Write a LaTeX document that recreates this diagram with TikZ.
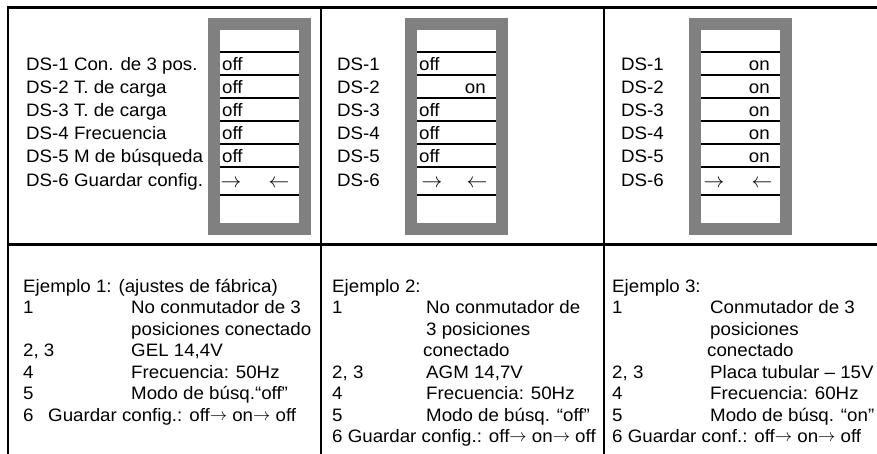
\documentclass[tikz,border=0pt]{standalone}
\usepackage{fontspec}
\setmainfont{Liberation Sans}[FakeStretch=1.04]
\definecolor{boxgray}{RGB}{128,128,128}
\newcommand{\myrarr}{\raisebox{1pt}{\fontsize{18}{18}\selectfont$\rightarrow$}}
\begin{document}
\begin{tikzpicture}[x=1pt,y=-1pt,
  frame/.style={line width=2.5pt,black},
  rowline/.style={line width=1.3pt,black},
  txt/.style={anchor=base west,inner sep=0pt,font=\fontsize{18}{21}\selectfont},
  ontxt/.style={anchor=base east,inner sep=0pt,font=\fontsize{18}{21}\selectfont},
  arr/.style={anchor=base,inner sep=0pt,font=\fontsize{20}{20}\selectfont}]
\useasboundingbox (0,0) rectangle (877,454);
% frame
\coordinate (tl) at (8,7.5);
\coordinate (tr) at (877,7.5);
\coordinate (bl) at (8,454);
\coordinate (d1t) at (321,7.5);
\coordinate (d1b) at (321,454);
\coordinate (d2t) at (604,7.5);
\coordinate (d2b) at (604,454);
\coordinate (ml) at (8,244.5);
\coordinate (mr) at (877,244.5);
\draw[frame] (tr) -- (tl) -- (bl);
\draw[frame] (d1t) -- (d1b);
\draw[frame] (d2t) -- (d2b);
\draw[frame] (ml) -- (mr);
% switch boxes
\foreach \xo in {208,405,689}{
  \fill[boxgray] (\xo,18) rectangle ++(103,217);
  \fill[white] (\xo+12,30) rectangle ++(79,193);
  \foreach \yy in {52,75,98,121,144,167,195}{
    \draw[rowline] (\xo+12,\yy) -- ++(79,0);
  }
}
% column 1 labels
\node[txt] (a1) at (26,70.5) {DS-1 Con. de 3 pos.};
\node[txt] (a2) at (26,93.3) {DS-2 T. de carga};
\node[txt] (a3) at (26,116.3) {DS-3 T. de carga};
\node[txt] (a4) at (26,139.5) {DS-4 Frecuencia};
\node[txt] (a5) at (26,162.3) {DS-5 M de búsqueda};
\node[txt] (a6) at (26,187) {DS-6 Guardar config.};
\node[txt] (s11) at (222,70.5) {off};
\node[txt] (s12) at (222,93.3) {off};
\node[txt] (s13) at (222,116.3) {off};
\node[txt] (s14) at (222,139.5) {off};
\node[txt] (s15) at (222,162.3) {off};
\node[arr] (r1) at (231,188) {$\rightarrow$};
\node[arr] (l1) at (279,188) {$\leftarrow$};
% column 2 labels
\node[txt] (b1) at (337,70.5) {DS-1};
\node[txt] (b2) at (337,93.3) {DS-2};
\node[txt] (b3) at (337,116.3) {DS-3};
\node[txt] (b4) at (337,139.5) {DS-4};
\node[txt] (b5) at (337,162.3) {DS-5};
\node[txt] (b6) at (337,187) {DS-6};
\node[txt] (s21) at (419,70.5) {off};
\node[ontxt] (s22) at (486,93.3) {on};
\node[txt] (s23) at (419,116.3) {off};
\node[txt] (s24) at (419,139.5) {off};
\node[txt] (s25) at (419,162.3) {off};
\node[arr] (r2) at (432,188) {$\rightarrow$};
\node[arr] (l2) at (477,188) {$\leftarrow$};
% column 3 labels
\node[txt] (c1) at (621,70.5) {DS-1};
\node[txt] (c2) at (621,93.3) {DS-2};
\node[txt] (c3) at (621,116.3) {DS-3};
\node[txt] (c4) at (621,139.5) {DS-4};
\node[txt] (c5) at (621,162.3) {DS-5};
\node[txt] (c6) at (621,187) {DS-6};
\node[ontxt] (s31) at (770,70.5) {on};
\node[ontxt] (s32) at (770,93.3) {on};
\node[ontxt] (s33) at (770,116.3) {on};
\node[ontxt] (s34) at (770,139.5) {on};
\node[ontxt] (s35) at (770,162.3) {on};
\node[arr] (r3) at (714,188) {$\rightarrow$};
\node[arr] (l3) at (762,188) {$\leftarrow$};
% bottom column 1
\node[txt] (e1) at (23,292) {Ejemplo 1: (ajustes de fábrica)};
\node[txt] (e1n1) at (23,313.5) {1};
\node[txt] (e1t1) at (131,313.5) {No conmutador de 3};
\node[txt] (e1t1b) at (131,335) {posiciones conectado};
\node[txt] (e1n2) at (23,356.5) {2, 3};
\node[txt] (e1t2) at (131,356.5) {GEL 14,4V};
\node[txt] (e1n4) at (23,378) {4};
\node[txt] (e1t4) at (131,378) {Frecuencia: 50Hz};
\node[txt] (e1n5) at (23,399.5) {5};
\node[txt] (e1t5) at (131,399.5) {Modo de búsq.“off”};
\node[txt] (e1n6) at (23,421) {6};
\node[txt] (e1t6) at (48,421) {Guardar config.: off\myrarr{} on\myrarr{} off};
% bottom column 2
\node[txt] (e2) at (332,292) {Ejemplo 2:};
\node[txt] (e2n1) at (332,313.5) {1};
\node[txt] (e2t1) at (426,313.5) {No conmutador de};
\node[txt] (e2t1b) at (426,335) {3 posiciones};
\node[txt] (e2t1c) at (423,356.5) {conectado};
\node[txt] (e2n2) at (332,378) {2, 3};
\node[txt] (e2t2) at (426,378) {AGM 14,7V};
\node[txt] (e2n4) at (332,399.5) {4};
\node[txt] (e2t4) at (426,399.5) {Frecuencia: 50Hz};
\node[txt] (e2n5) at (332,421) {5};
\node[txt] (e2t5) at (426,421) {Modo de búsq. “off”};
\node[txt] (e2t6) at (332,442.5) {6 Guardar config.: off\myrarr{} on\myrarr{} off};
% bottom column 3
\node[txt] (e3) at (612,292) {Ejemplo 3:};
\node[txt] (e3n1) at (612,313.5) {1};
\node[txt] (e3t1) at (710,313.5) {Conmutador de 3};
\node[txt] (e3t1b) at (710,335) {posiciones};
\node[txt] (e3t1c) at (707,356.5) {conectado};
\node[txt] (e3n2) at (612,378) {2, 3};
\node[txt] (e3t2) at (710,378) {Placa tubular – 15V};
\node[txt] (e3n4) at (612,399.5) {4};
\node[txt] (e3t4) at (710,399.5) {Frecuencia: 60Hz};
\node[txt] (e3n5) at (612,421) {5};
\node[txt] (e3t5) at (710,421) {Modo de búsq. “on”};
\node[txt] (e3t6) at (612,442.5) {6 Guardar conf.: off\myrarr{} on\myrarr{} off};
\end{tikzpicture}
\end{document}
